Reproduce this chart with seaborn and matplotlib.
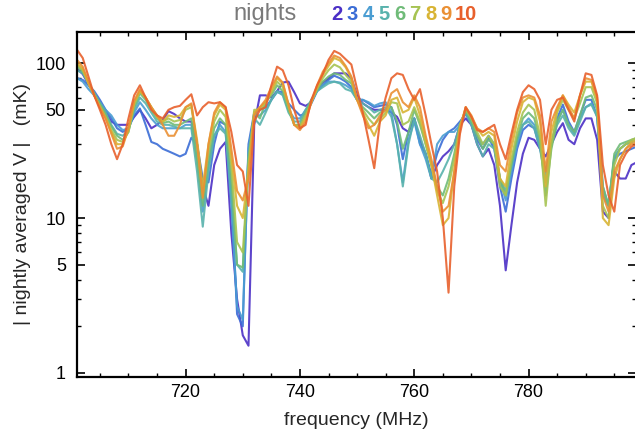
import matplotlib
matplotlib.use("Agg")
import numpy as np
import pandas as pd
import matplotlib.pyplot as plt
import seaborn as sns
from matplotlib.ticker import FixedLocator, NullFormatter

# frequency channels (MHz)
freq = list(range(701, 800))

nights = [2, 3, 4, 5, 6, 7, 8, 9, 10]
night_colors = ["#4b2fc6", "#3b6dd6", "#4a9dd2", "#58b2ac", "#6fbb78",
                "#a6c352", "#d8b434", "#ea9034", "#e8602c"]

# |nightly averaged V| in mK
n2 = [92, 85, 73, 63, 55, 48, 42, 40, 40, 40,
      45, 50, 44, 38, 40, 43, 49, 47, 44, 42,
      42, 30, 16, 12, 22, 28, 31, 8, 3, 1.75,
      1.5, 40, 62, 62, 60, 66, 75, 76, 65, 55,
      53, 56, 68, 75, 80, 86, 86, 86, 80, 62,
      55, 52, 50, 50, 50, 48, 45, 38, 36, 44,
      32, 26, 18, 22, 25, 27, 30, 40, 44, 40,
      30, 25, 28, 22, 12, 4.6, 9, 17, 26, 33,
      32, 28, 25, 30, 36, 41, 32, 30, 38, 44,
      44, 32, 11, 10, 20, 18, 18, 22, 23]
n3 = [80, 78, 72, 66, 58, 50, 44, 38, 36, 38,
      46, 51, 40, 31, 30, 28, 27, 26, 25, 26,
      33, 30, 18, 17, 30, 42, 40, 15, 2.4, 2.0,
      30, 48, 50, 52, 58, 66, 65, 55, 50, 46,
      47, 55, 66, 72, 78, 83, 80, 76, 70, 58,
      58, 55, 52, 53, 54, 52, 40, 24, 36, 44,
      30, 26, 19, 26, 32, 36, 38, 42, 47, 40,
      32, 28, 33, 28, 16, 11, 18, 28, 37, 40,
      38, 28, 20, 30, 44, 54, 42, 36, 46, 58,
      58, 45, 14, 12, 24, 26, 27, 28, 29]
n4 = [80, 76, 68, 62, 56, 50, 46, 40, 37, 38,
      48, 56, 50, 44, 40, 38, 38, 38, 38, 40,
      40, 24, 11, 22, 34, 40, 36, 12, 2.7, 2.2,
      28, 46, 46, 50, 58, 65, 63, 50, 44, 44,
      50, 56, 66, 72, 76, 76, 75, 72, 68, 58,
      58, 56, 53, 55, 56, 48, 30, 17, 32, 42,
      30, 24, 18, 30, 34, 36, 36, 40, 48, 41,
      34, 30, 34, 30, 18, 13, 20, 30, 40, 44,
      40, 30, 18, 30, 42, 50, 40, 35, 44, 52,
      55, 46, 16, 12, 24, 28, 30, 31, 32]
n5 = [90, 86, 74, 64, 55, 48, 40, 35, 34, 37,
      50, 60, 55, 48, 42, 40, 40, 39, 38, 38,
      38, 20, 8.8, 20, 34, 38, 35, 14, 5, 4.5,
      26, 44, 40, 48, 58, 66, 62, 48, 42, 42,
      50, 58, 66, 70, 74, 76, 74, 68, 66, 58,
      55, 52, 48, 50, 52, 45, 30, 16, 30, 44,
      34, 26, 18, 17, 20, 24, 30, 40, 48, 40,
      30, 25, 30, 28, 18, 15, 22, 32, 40, 42,
      38, 28, 17, 30, 40, 46, 38, 34, 42, 52,
      54, 45, 15, 12, 25, 28, 30, 31, 32]
n6 = [95, 88, 75, 64, 55, 47, 39, 34, 32, 36,
      52, 64, 58, 50, 44, 41, 42, 40, 40, 42,
      44, 24, 12, 24, 38, 44, 40, 18, 5, 4.8,
      24, 48, 44, 56, 62, 72, 66, 50, 40, 40,
      48, 58, 68, 76, 82, 86, 84, 78, 74, 58,
      52, 48, 44, 48, 50, 52, 42, 28, 36, 50,
      40, 30, 22, 16, 14, 18, 26, 40, 50, 42,
      34, 28, 32, 30, 18, 14, 22, 33, 44, 48,
      44, 32, 14, 28, 42, 50, 40, 36, 46, 60,
      62, 50, 16, 12, 26, 30, 31, 32, 33]
n7 = [98, 90, 74, 62, 53, 45, 37, 32, 31, 36,
      54, 66, 60, 52, 46, 42, 44, 42, 43, 50,
      52, 30, 14, 27, 42, 50, 45, 22, 7, 6,
      22, 50, 50, 56, 64, 76, 70, 52, 40, 39,
      46, 56, 68, 80, 90, 98, 94, 84, 76, 58,
      50, 44, 40, 44, 48, 56, 55, 40, 42, 52,
      42, 30, 22, 15, 12.5, 16, 24, 40, 50, 44,
      36, 30, 34, 30, 16, 14, 24, 36, 48, 54,
      50, 34, 12, 30, 48, 58, 50, 44, 55, 70,
      70, 55, 12, 10, 22, 28, 30, 32, 33]
n8 = [100, 92, 74, 62, 52, 44, 36, 30, 30, 38,
      56, 66, 60, 52, 45, 42, 46, 45, 46, 52,
      54, 32, 16, 30, 46, 54, 50, 25, 12, 10,
      20, 48, 52, 56, 66, 80, 74, 54, 40, 38,
      44, 56, 70, 84, 96, 108, 104, 94, 80, 58,
      48, 40, 34, 42, 46, 58, 60, 48, 50, 60,
      46, 32, 22, 14, 9, 10, 20, 38, 52, 45,
      38, 34, 36, 34, 18, 16, 28, 42, 56, 60,
      58, 42, 16, 36, 50, 62, 54, 48, 62, 76,
      76, 58, 10, 9, 18, 24, 28, 31, 32]
n9 = [105, 95, 76, 62, 52, 44, 35, 28, 29, 38,
      57, 68, 60, 52, 46, 40, 34, 34, 40, 52,
      55, 30, 13.5, 30, 48, 56, 52, 28, 15, 13,
      18, 46, 52, 58, 70, 82, 75, 54, 40, 37,
      42, 56, 72, 88, 100, 112, 108, 96, 82, 58,
      46, 38, 40, 46, 50, 64, 68, 56, 52, 62,
      52, 34, 24, 16, 11, 12, 20, 38, 52, 46,
      38, 36, 38, 36, 22, 20, 32, 48, 60, 62,
      60, 46, 20, 42, 52, 62, 52, 44, 62, 80,
      78, 60, 14, 11, 20, 24, 28, 30, 31]
n10 = [122, 108, 82, 62, 50, 40, 30, 24, 30, 44,
       62, 72, 60, 50, 46, 44, 50, 52, 53, 58,
       63, 46, 52, 56, 55, 56, 52, 36, 22, 20,
       12, 42, 50, 52, 72, 95, 90, 72, 50, 38,
       40, 58, 72, 85, 105, 120, 115, 106, 98, 68,
       48, 32, 21, 42, 60, 80, 86, 84, 68, 58,
       68, 46, 30, 20, 10, 3.3, 16, 35, 52, 45,
       37, 36, 38, 40, 30, 24, 35, 50, 65, 72,
       68, 58, 30, 50, 58, 60, 50, 42, 62, 86,
       84, 62, 22, 14, 11, 22, 26, 29, 30]

series = [n2, n3, n4, n5, n6, n7, n8, n9, n10]

df = pd.DataFrame({
    "freq": freq * len(nights),
    "value": np.concatenate(series),
    "night": np.repeat([str(n) for n in nights], len(freq)),
})

sns.set_theme(style="ticks")
plt.rcParams["font.family"] = ["Liberation Sans", "DejaVu Sans"]

fig = plt.figure(figsize=(6.35, 4.37), dpi=100)
ax = fig.add_axes([0.1213, 0.1373, 0.8803, 0.7895])

palette = {str(n): c for n, c in zip(nights, night_colors)}
sns.lineplot(data=df, x="freq", y="value", hue="night",
             hue_order=[str(n) for n in nights], palette=palette,
             estimator=None, legend=False, linewidth=1.5, alpha=0.9, ax=ax)

ax.set_yscale("log")
ax.set_xlim(701, 798.8)
ax.set_ylim(0.942, 159)

ax.xaxis.set_major_locator(FixedLocator([720, 740, 760, 780]))
ax.xaxis.set_minor_locator(FixedLocator(np.arange(705, 800, 5)))
ax.yaxis.set_major_locator(FixedLocator([1, 5, 10, 50, 100]))
ax.yaxis.set_minor_locator(FixedLocator([2, 3, 4, 6, 7, 8, 9, 20, 30, 40, 60, 70, 80, 90]))
ax.set_yticklabels(["1", "5", "10", "50", "100"])
ax.yaxis.set_minor_formatter(NullFormatter())

ax.tick_params(which="both", direction="in", top=True, right=True,
               colors="black", labelsize=13)
ax.tick_params(which="major", length=6, width=1.2)
ax.tick_params(which="minor", length=3, width=1.0)
ax.tick_params(axis="x", which="major", pad=5)
ax.tick_params(axis="y", which="major", pad=8)
for s in ax.spines.values():
    s.set_linewidth(1.6)
    s.set_color("black")

ax.set_xlabel("frequency (MHz)", fontsize=14, labelpad=8)
ax.set_ylabel("| nightly averaged V |   (mK)", fontsize=14, labelpad=3)

# header: "nights" plus colored night numbers
W, H = 635, 437
fig.text(265.5 / W, 1 - 14 / H, "nights", color="#7a7a7a", fontsize=17,
         ha="center", va="center")
centers = [337, 352.6, 368.2, 383.8, 399.4, 415, 430.6, 446.2, 466.3]
for n, c, x in zip(nights, night_colors, centers):
    fig.text(x / W, 1 - 14.5 / H, str(n), color=c, fontsize=14.5,
             fontweight="bold", ha="center", va="center")

fig.savefig("out.png", dpi=100)
